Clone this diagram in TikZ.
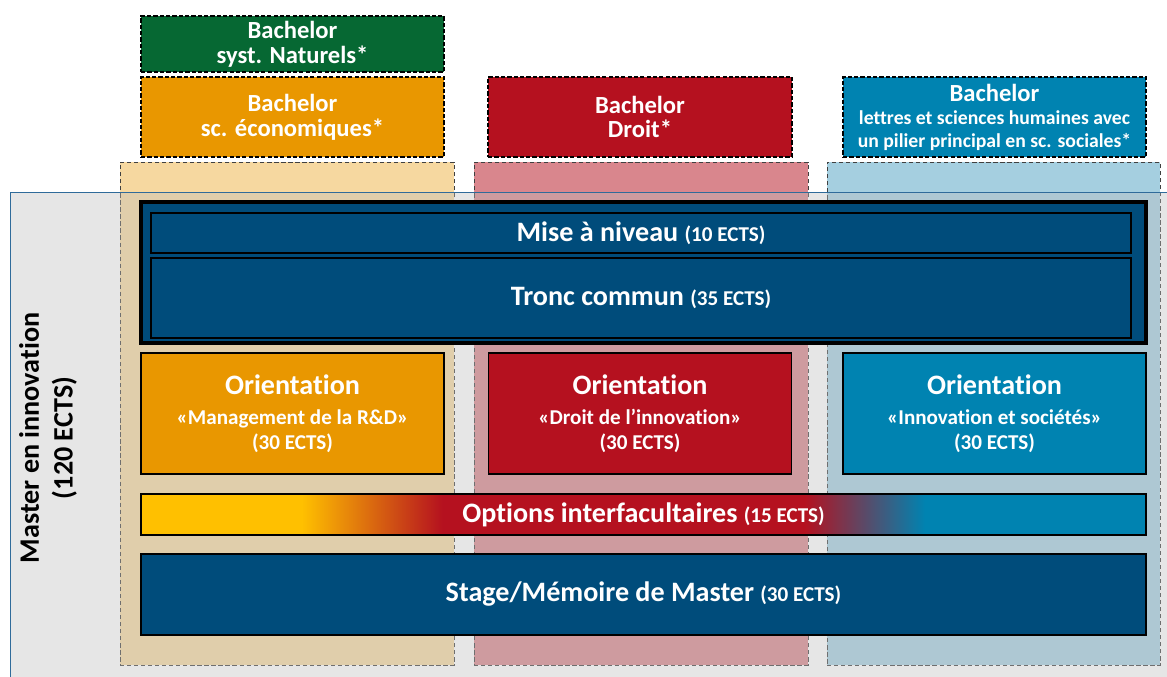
\documentclass[tikz,border=0pt]{standalone}
\usepackage{fontspec}
\setmainfont{Carlito}[Ligatures=NoCommon]
\usetikzlibrary{positioning}

\definecolor{vert}{HTML}{066833}
\definecolor{orange}{HTML}{E99700}
\definecolor{rouge}{HTML}{B5111F}
\definecolor{bleu}{HTML}{0083B1}
\definecolor{marine}{HTML}{004C7B}
\definecolor{jaune}{HTML}{FFC000}
\definecolor{fondO}{HTML}{F6D8A0}
\definecolor{fondR}{HTML}{D9868D}
\definecolor{fondB}{HTML}{A5CFE0}
\definecolor{gris}{HTML}{BEBEBE}
\definecolor{trait}{HTML}{2F6B9A}

\pgfdeclarehorizontalshading{optgrad}{100bp}{color(0bp)=(jaune); color(33bp)=(jaune); color(40bp)=(rouge); color(58bp)=(rouge); color(64bp)=(bleu); color(100bp)=(bleu)}

\newcommand{\grand}{\fontsize{20}{24}\selectfont}
\newcommand{\moyen}{\fontsize{17.5}{17.5}\selectfont}
\newcommand{\ects}[1]{{\fontsize{15}{18}\selectfont(#1 ECTS)}}

\tikzset{
    bloc/.style 2 args={rectangle, minimum width=#1*0.025cm, minimum height=#2*0.025cm,
        inner sep=0pt, align=center, text=white, font=\bfseries},
    bach/.style={draw=black, line width=0.9pt, dash pattern=on 3pt off 1.5pt},
    colonne/.style={draw=black!75, line width=0.6pt, dash pattern=on 3pt off 2pt},
    cadre/.style={draw=black, line width=0.8pt},
}

\begin{document}
\begin{tikzpicture}[x=0.025cm, y=-0.025cm]
\useasboundingbox (0,0) rectangle (1167,677);
\clip (0,0) rectangle (1167,677);

% colonnes des bachelors
\node (CE) at (287,413.5)[bloc={334}{503}, colonne, fill=fondO]{};
\node (CD) at (641,413.5)[bloc={334}{503}, colonne, fill=fondR]{};
\node (CL) at (993.5,413.5)[bloc={333}{503}, colonne, fill=fondB]{};

% le master
\fill[gris, fill opacity=.38] (10,192) rectangle (1190,700);
\draw[trait, line width=0.7pt] (10,700)--(10,192)--(1190,192);
\node (M) at (48,438)[rotate=90, align=center, font=\grand\bfseries]{Master en innovation\\(120 ECTS)};

% bachelors
\node (BN) at (292.5,44)[bloc={303}{56}, bach, fill=vert, font=\moyen\bfseries]{Bachelor\\syst. Naturels*};
\node (BE) at (292.5,117)[bloc={303}{80}, bach, fill=orange, font=\moyen\bfseries]{Bachelor\\sc. économiques*};
\node (BD) at (640,117)[bloc={304}{80}, bach, fill=rouge, font=\moyen\bfseries]{Bachelor\\Droit*};
\node (BL) at (994.5,117)[bloc={303}{80}, bach, fill=bleu, font=\fontsize{14}{16.3}\selectfont\bfseries]
    {{\moyen Bachelor}\\lettres et sciences humaines avec\\un pilier principal en sc. sociales*};

% tronc
\node (F) at (643.5,272.5)[bloc={1005}{141}, draw=black, line width=2.3pt, fill=marine]{};
\node (MN) at (641,233)[bloc={980}{40}, cadre, fill=marine]{{\grand Mise à niveau~}\ects{10}};
\node (TC) at (641,298)[bloc={980}{80}, cadre, fill=marine]{{\grand Tronc commun~}\ects{35}};

% orientations
\foreach \n/\x/\c/\t in {OE/292.5/orange/«Management de la R\&D», OD/640/rouge/«Droit de l’innovation», OL/994.5/bleu/«Innovation et sociétés»}
{
    \node (\n) at (\x,413.5)[bloc={303}{121}, cadre, fill=\c, font=\fontsize{15}{17.7}\selectfont\bfseries]
        {{\grand Orientation}\\[3.6pt]\t\\(30 ECTS)};
}

\node (OI) at (643.5,514.5)[bloc={1005}{41}, cadre, shading=optgrad]{{\grand Options interfacultaires~}\ects{15}};
\node (SM) at (643.5,594.5)[bloc={1005}{81}, cadre, fill=marine]{{\grand Stage/Mémoire de Master~}\ects{30}};
\end{tikzpicture}
\end{document}
